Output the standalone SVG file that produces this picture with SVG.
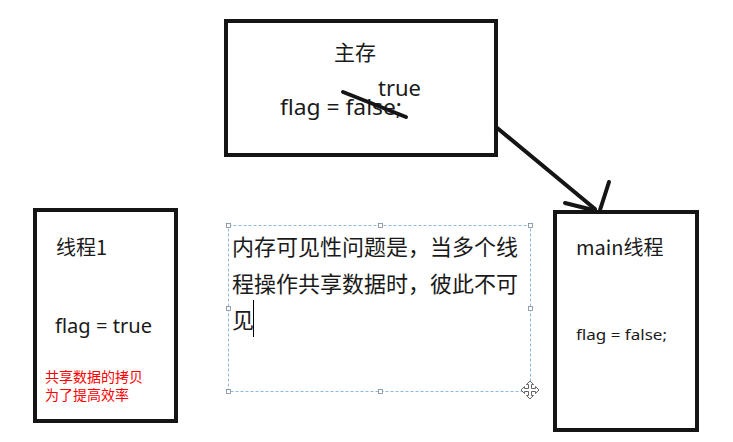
<svg xmlns="http://www.w3.org/2000/svg" width="733" height="442" viewBox="0 0 733 442">
<defs>
<style>
.box{fill:#fff;stroke:#151515;stroke-width:4}
.t{font-family:"Noto Sans","Noto Sans CJK SC",sans-serif;fill:#1a1a1a}
.cjk{font-family:"Noto Sans CJK SC","Noto Sans",sans-serif;fill:#1a1a1a}
.red{font-family:"Noto Sans CJK SC",sans-serif;fill:#ff0000;font-size:14px}
.conn{stroke:#151515;stroke-width:4;stroke-linecap:round;fill:none}
.sel{fill:none;stroke:#8fb8de;stroke-width:1;stroke-dasharray:3 2}
.h{fill:#fff;stroke:#7a8a99;stroke-width:0.8}
</style>
</defs>
<rect width="733" height="442" fill="#fff"/>
<g id="main-memory">
<rect class="box" x="226" y="21" width="270" height="134"/>
<text class="cjk" x="355" y="60" font-size="21" text-anchor="middle">主存</text>
<text class="t" x="280" y="115" font-size="22" textLength="122" lengthAdjust="spacingAndGlyphs">flag = false;</text>
<text class="t" x="378" y="96" font-size="22">true</text>
<line class="conn" x1="343" y1="92" x2="406" y2="117" stroke-width="3.5"/>
</g>
<g id="thread1">
<rect class="box" x="35" y="210" width="141" height="211"/>
<text class="cjk" x="56" y="255" font-size="20">线程1</text>
<text class="t" x="55" y="333" font-size="20" textLength="97" lengthAdjust="spacingAndGlyphs">flag = true</text>
<text class="red" x="45" y="382">共享数据的拷贝</text>
<text class="red" x="45" y="400">为了提高效率</text>
</g>
<g id="main-thread">
<rect class="box" x="555" y="212" width="142" height="218"/>
<text class="cjk" x="576" y="255" font-size="20">main线程</text>
<text class="t" x="576" y="340" font-size="15" textLength="91" lengthAdjust="spacingAndGlyphs">flag = false;</text>
</g>
<g id="note">
<rect class="sel" x="228.5" y="225.5" width="302" height="166"/>
<g class="h">
<rect x="226.5" y="223.5" width="4" height="4"/>
<rect x="378.5" y="223.5" width="4" height="4"/>
<rect x="528.5" y="223.5" width="4" height="4"/>
<rect x="226.5" y="306.5" width="4" height="4"/>
<rect x="528.5" y="306.5" width="4" height="4"/>
<rect x="226.5" y="389.5" width="4" height="4"/>
<rect x="378.5" y="389.5" width="4" height="4"/>
</g>
<text class="cjk" x="232" y="255" font-size="22">内存可见性问题是，当多个线</text>
<text class="cjk" x="232" y="292" font-size="22">程操作共享数据时，彼此不可</text>
<text class="cjk" x="232" y="328" font-size="22">见</text>
<line x1="253.5" y1="300" x2="253.5" y2="337" stroke="#000" stroke-width="1"/>
<path d="M530 381 L533.5 384.5 L531.5 384.5 L531.5 388.5 L535.5 388.5 L535.5 386.5 L539 390 L535.5 393.5 L535.5 391.5 L531.5 391.5 L531.5 395.5 L533.5 395.5 L530 399 L526.5 395.5 L528.5 395.5 L528.5 391.5 L524.5 391.5 L524.5 393.5 L521 390 L524.5 386.5 L524.5 388.5 L528.5 388.5 L528.5 384.5 L526.5 384.5 Z" fill="#fff" stroke="#555" stroke-width="0.9"/>
</g>
<g id="connectors">
<line class="conn" x1="496" y1="127" x2="595" y2="209"/>
<line class="conn" x1="565" y1="203" x2="593" y2="210"/>
<line class="conn" x1="609" y1="182" x2="600" y2="210"/>
</g>
</svg>
